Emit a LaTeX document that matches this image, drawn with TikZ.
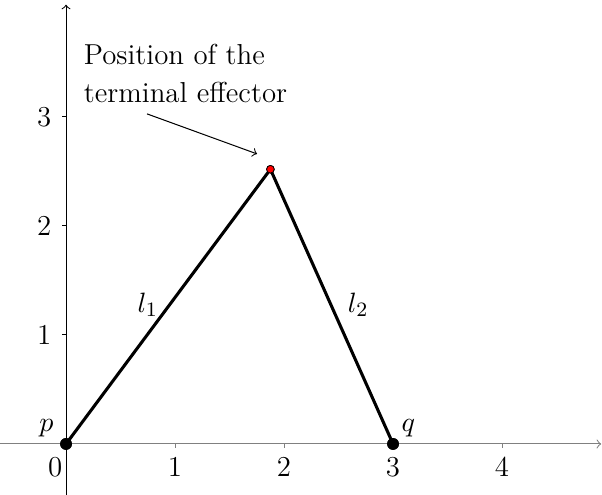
\documentclass[tikz,border=0pt]{standalone}
\usetikzlibrary{arrows}
\begin{document}
\begin{tikzpicture}[x=1.5cm,y=1.5cm,
  every node/.style={font=\fontsize{11.3}{13.6}\selectfont},
  axis/.style={line width=0.4pt,->,>=to},
  link/.style={line width=1.2pt},
  joint/.style={circle,fill=black,inner sep=0pt,minimum size=4.6pt},
  effector/.style={circle,fill=red,draw=black,line width=0.3pt,inner sep=0pt,minimum size=3pt}]
\useasboundingbox (-0.606,-0.468) rectangle (4.917,4.073);
% axes
\coordinate (xs) at (-0.606,0);
\coordinate (xe) at (4.91,0);
\coordinate (ys) at (0,-0.47);
\coordinate (ye) at (0,4.03);
\draw[axis,gray] (xs) -- (xe);
\draw[axis] (ys) -- (ye);
\foreach \x in {1,2,3,4} \draw[gray,line width=0.4pt] (\x,0) -- (\x,-0.035);
\foreach \y in {1,2,3} \draw[line width=0.4pt] (0,\y) -- (-0.04,\y);
\node (x0) at (-0.1,-0.21) {0};
\foreach \x in {1,2,3,4} \node (x\x) at (\x,-0.21) {\x};
\foreach \y in {1,2,3} \node (y\y) at (-0.2,\y) {\y};
% links
\node[joint] (p) at (0,0) {};
\node[joint] (q) at (3,0) {};
\node[effector] (e) at (1.875,2.52) {};
\draw[link] (p.center) -- (e.center) -- (q.center);
\node[effector] at (e) {};
\node[joint] at (p) {};
\node[joint] at (q) {};
\node (lp) at (-0.18,0.14) {$p$};
\node (lq) at (3.14,0.14) {$q$};
\node (l1) at (0.75,1.28) {$l_1$};
\node (l2) at (2.68,1.28) {$l_2$};
% annotation
\node[align=left,inner sep=0pt] (txt) at (1.096,3.40) {Position of the\\[1pt]terminal effector};
\coordinate (as) at (0.743,3.028);
\coordinate (ae) at (1.752,2.661);
\draw[->,>=to,line width=0.4pt] (as) -- (ae);
\end{tikzpicture}
\end{document}
